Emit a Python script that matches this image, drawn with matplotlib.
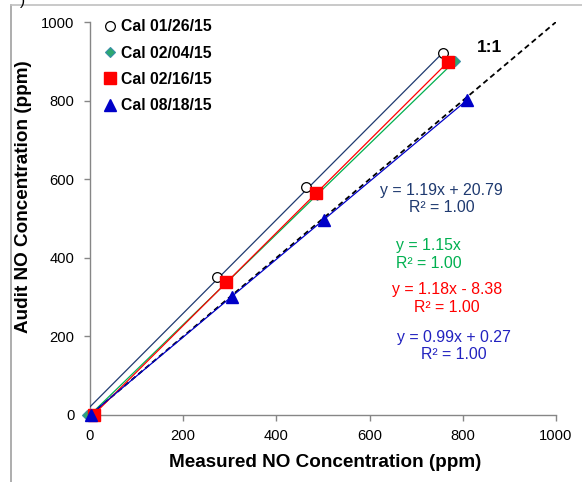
import matplotlib
matplotlib.use("Agg")
import matplotlib.pyplot as plt
from matplotlib.lines import Line2D
import numpy as np

plt.rcParams['font.family'] = ['Liberation Sans', 'DejaVu Sans']

# calibration runs: measured vs audit NO (ppm)
cal_labels = ["Cal 01/26/15", "Cal 02/04/15", "Cal 02/16/15", "Cal 08/18/15"]

meas_0126 = [273, 463, 757]
audit_0126 = [350, 580, 921]

meas_0204 = [-6, 291, 488, 783]
audit_0204 = [0, 335, 561, 900]

meas_0216 = [8, 292, 484, 768]
audit_0216 = [0, 338, 564, 898]

meas_0818 = [3, 304, 502, 810]
audit_0818 = [0, 300, 497, 802]

# linear trendlines (slope, intercept)
slopes = [1.19, 1.15, 1.18, 0.99]
intercepts = [20.79, 0.0, -8.38, 0.27]
eq_texts = ["y = 1.19x + 20.79", "y = 1.15x", "y = 1.18x - 8.38", "y = 0.99x + 0.27"]
r2_text = "R\u00b2 = 1.00"

ticks = [0, 200, 400, 600, 800, 1000]

W, H = 582, 482
fig = plt.figure(figsize=(W / 100, H / 100), dpi=100)
ax = fig.add_axes([90 / W, 1 - 415 / H, (556 - 90) / W, (415 - 22) / H])

navy = "#1F3A70"
green = "#00B050"
red = "#FF0000"
blue = "#0000C8"
gray = "#868686"

# 1:1 reference line
ax.plot([0, 1000], [0, 1000], color="black", lw=1.3, ls=(0, (3, 2)), zorder=2)

series = [
    (meas_0126, audit_0126, navy),
    (meas_0204, audit_0204, green),
    (meas_0216, audit_0216, red),
    (meas_0818, audit_0818, blue),
]
for i, (x, y, c) in enumerate(series):
    x0 = max(0, min(x))
    if i == 0:
        x0 = 0
    xs = np.array([x0, max(x)])
    ax.plot(xs, slopes[i] * xs + intercepts[i], color=c, lw=0.9, zorder=3)

ax.plot(meas_0126, audit_0126, ls="none", marker="o", ms=7, mfc="white",
        mec="black", mew=0.9, zorder=4, clip_on=False)
ax.plot(meas_0204, audit_0204, ls="none", marker="D", ms=5.5, mfc="#2CA870",
        mec="#3A8FA8", mew=0.8, zorder=5, clip_on=False)
ax.plot(meas_0216, audit_0216, ls="none", marker="s", ms=8, mfc=red,
        mec=red, zorder=6, clip_on=False)
ax.plot(meas_0818, audit_0818, ls="none", marker="^", ms=8, mfc=blue,
        mec=blue, zorder=7, clip_on=False)

ax.set_xlim(0, 1000)
ax.set_ylim(0, 1000)
ax.set_xticks(ticks)
ax.set_yticks(ticks)
for s in ["top", "right"]:
    ax.spines[s].set_visible(False)
for s in ["left", "bottom"]:
    ax.spines[s].set_color(gray)
    ax.spines[s].set_linewidth(1.0)
ax.tick_params(direction="out", length=4, width=1.0, color=gray,
               labelsize=10.6, labelcolor="black")
ax.tick_params(axis="y", pad=7)
ax.tick_params(axis="x", pad=6)

ax.set_xlabel("Measured NO Concentration (ppm)", fontsize=13.6, fontweight="bold")
ax.set_ylabel("Audit NO Concentration (ppm)", fontsize=13.6, fontweight="bold")
ax.xaxis.set_label_coords(0.505, -0.1)
ax.yaxis.set_label_coords(-0.125, 0.555)

ax.text(858, 934, "1:1", fontsize=12.5, fontweight="bold", ha="center", va="center")

# trendline equations
eq_colors = [navy, green, red, "#2222C0"]
eq_pos = [(755, 572), (727, 432), (766, 320), (780, 198)]
r2_pos = [(755, 527), (727, 386), (766, 274), (780, 153)]
for i in range(4):
    if i == 1:
        ax.text(656, eq_pos[i][1], eq_texts[i], color=eq_colors[i], fontsize=11.4,
                ha="left", va="center")
        ax.text(656, r2_pos[i][1], r2_text, color=eq_colors[i], fontsize=11.4,
                ha="left", va="center")
    else:
        ax.text(eq_pos[i][0], eq_pos[i][1], eq_texts[i], color=eq_colors[i],
                fontsize=11.4, ha="center", va="center")
        ax.text(r2_pos[i][0], r2_pos[i][1], r2_text, color=eq_colors[i],
                fontsize=11.4, ha="center", va="center")

handles = [
    Line2D([], [], ls="none", marker="o", ms=7, mfc="white", mec="black", mew=0.9),
    Line2D([], [], ls="none", marker="D", ms=5.5, mfc="#2CA870", mec="#3A8FA8", mew=0.8),
    Line2D([], [], ls="none", marker="s", ms=8, mfc=red, mec=red),
    Line2D([], [], ls="none", marker="^", ms=8, mfc=blue, mec=blue),
]
leg = ax.legend(handles, cal_labels, loc="upper left", bbox_to_anchor=(0.01, 1.035),
                frameon=False, prop={"weight": "bold", "size": 11.3},
                handlelength=0.6, handletextpad=0.35, labelspacing=0.72,
                borderaxespad=0.3)

# outer frame lines
fig.add_artist(Line2D([11 / W, 11 / W], [0, 1 - 5 / H], color="#A0A0A0", lw=1.2,
                      transform=fig.transFigure))
fig.add_artist(Line2D([11 / W, 1], [1 - 5 / H, 1 - 5 / H], color="#C0C0C0", lw=1.2,
                      transform=fig.transFigure))
fig.text(22 / W, 1 - 1 / H, ")", fontsize=11, ha="center", va="center")

fig.savefig("out.png", dpi=100)
